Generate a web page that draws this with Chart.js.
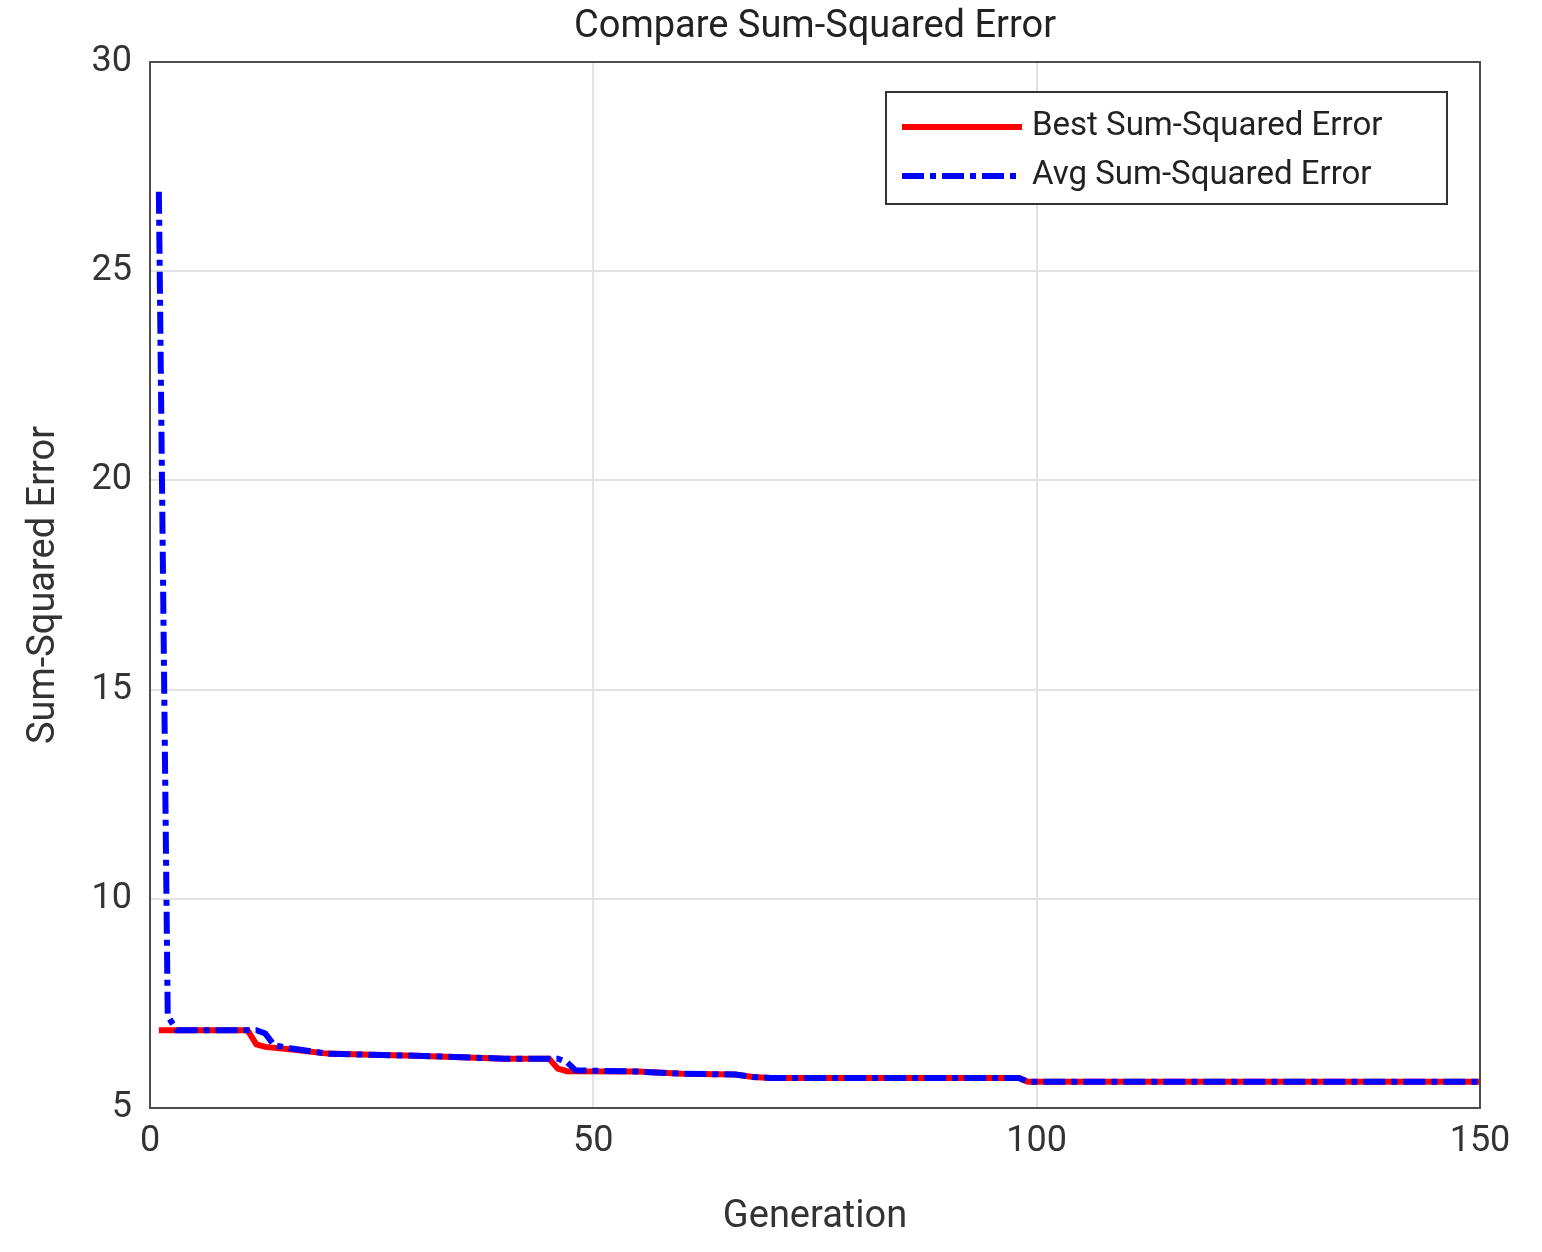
<!DOCTYPE html>
<html>
<head>
<meta charset="utf-8">
<script src="https://cdn.jsdelivr.net/npm/chart.js@4/dist/chart.umd.min.js"></script>
<style>
  html, body { margin: 0; background: #fff; }
  #wrap { width: 1542px; height: 1252px; }
</style>
</head>
<body>
<div id="wrap"><canvas id="c"></canvas></div>
<script>
// Sum-squared error per generation (breakpoints)
const bestGen = [1, 11, 12, 13, 16, 20, 25, 30, 40, 45, 46, 47, 55, 60, 66, 68, 70, 98, 99, 150];
const bestSse = [6.86, 6.86, 6.52, 6.46, 6.4, 6.3, 6.27, 6.25, 6.18, 6.18, 5.94, 5.88, 5.87, 5.82, 5.8, 5.74, 5.72, 5.72, 5.63, 5.63];
const avgGen = [1, 2, 3, 12, 13, 14, 16, 20, 25, 30, 40, 46, 47, 48, 55, 60, 66, 68, 70, 98, 99, 150];
const avgSse = [26.9, 7.2, 6.86, 6.86, 6.78, 6.5, 6.42, 6.3, 6.27, 6.25, 6.18, 6.18, 6.1, 5.9, 5.87, 5.82, 5.8, 5.74, 5.72, 5.72, 5.63, 5.63];
const xTicks = [0, 50, 100, 150];
const yTicks = [5, 10, 15, 20, 25, 30];

const FONT = 'Roboto, "Liberation Sans", sans-serif';
const pts = (xs, ys) => xs.map((x, i) => ({ x, y: ys[i] }));

// MATLAB-style frame, title and legend box
const decor = {
  id: 'decor',
  afterDraw(chart) {
    const { ctx, chartArea: a } = chart;
    ctx.save();
    ctx.strokeStyle = '#4d4d4d';
    ctx.lineWidth = 2;
    ctx.strokeRect(a.left, a.top, a.right - a.left, a.bottom - a.top);

    ctx.fillStyle = '#222';
    ctx.font = '38px ' + FONT;
    ctx.textAlign = 'center';
    ctx.textBaseline = 'middle';
    ctx.fillText('Compare Sum-Squared Error', (a.left + a.right) / 2, 27);

    const bx = 886, by = 92, bw = 561, bh = 112;
    ctx.fillStyle = '#fff';
    ctx.fillRect(bx, by, bw, bh);
    ctx.strokeStyle = '#333';
    ctx.lineWidth = 2;
    ctx.strokeRect(bx, by, bw, bh);
    ctx.font = '33px ' + FONT;
    ctx.textAlign = 'left';
    chart.data.datasets.forEach((ds, i) => {
      const y = by + 35 + i * 49;
      ctx.strokeStyle = ds.borderColor;
      ctx.lineWidth = ds.borderWidth;
      ctx.setLineDash(ds.borderDash || []);
      ctx.beginPath();
      ctx.moveTo(bx + 16, y);
      ctx.lineTo(bx + 136, y);
      ctx.stroke();
      ctx.setLineDash([]);
      ctx.fillStyle = '#222';
      ctx.fillText(ds.label, bx + 146, y);
    });
    ctx.restore();
  }
};

new Chart(document.getElementById('c'), {
  type: 'line',
  data: {
    datasets: [
      {
        label: 'Best Sum-Squared Error',
        data: pts(bestGen, bestSse),
        borderColor: '#ff0000',
        borderWidth: 6,
        pointRadius: 0,
        tension: 0,
        order: 1
      },
      {
        label: 'Avg Sum-Squared Error',
        data: pts(avgGen, avgSse),
        borderColor: '#0000ff',
        borderWidth: 6,
        borderDash: [22, 6, 6, 6],
        pointRadius: 0,
        tension: 0,
        order: 0
      }
    ]
  },
  options: {
    responsive: true,
    maintainAspectRatio: false,
    animation: false,
    layout: { padding: { top: 62, right: 62 } },
    plugins: { legend: { display: false }, tooltip: { enabled: false } },
    scales: {
      x: {
        type: 'linear', min: 0, max: 150,
        afterBuildTicks: s => { s.ticks = xTicks.map(v => ({ value: v })); },
        afterFit: s => { s.height = 144; },
        grid: { color: '#e3e3e3', lineWidth: 2, drawTicks: false },
        border: { display: false },
        ticks: { font: { size: 36, family: FONT }, color: '#333', padding: 12 },
        title: { display: true, text: 'Generation', font: { size: 38, family: FONT }, color: '#333', padding: { top: 0, bottom: 12 } }
      },
      y: {
        type: 'linear', min: 5, max: 30,
        afterBuildTicks: s => { s.ticks = yTicks.map(v => ({ value: v })); },
        afterFit: s => { s.width = 150; },
        grid: { color: '#e3e3e3', lineWidth: 2, drawTicks: false },
        border: { display: false },
        ticks: { font: { size: 36, family: FONT }, color: '#333', padding: 18 },
        title: { display: true, text: 'Sum-Squared Error', font: { size: 38, family: FONT }, color: '#333', padding: { top: 22, bottom: 0 } }
      }
    }
  },
  plugins: [decor]
});
</script>
</body>
</html>
